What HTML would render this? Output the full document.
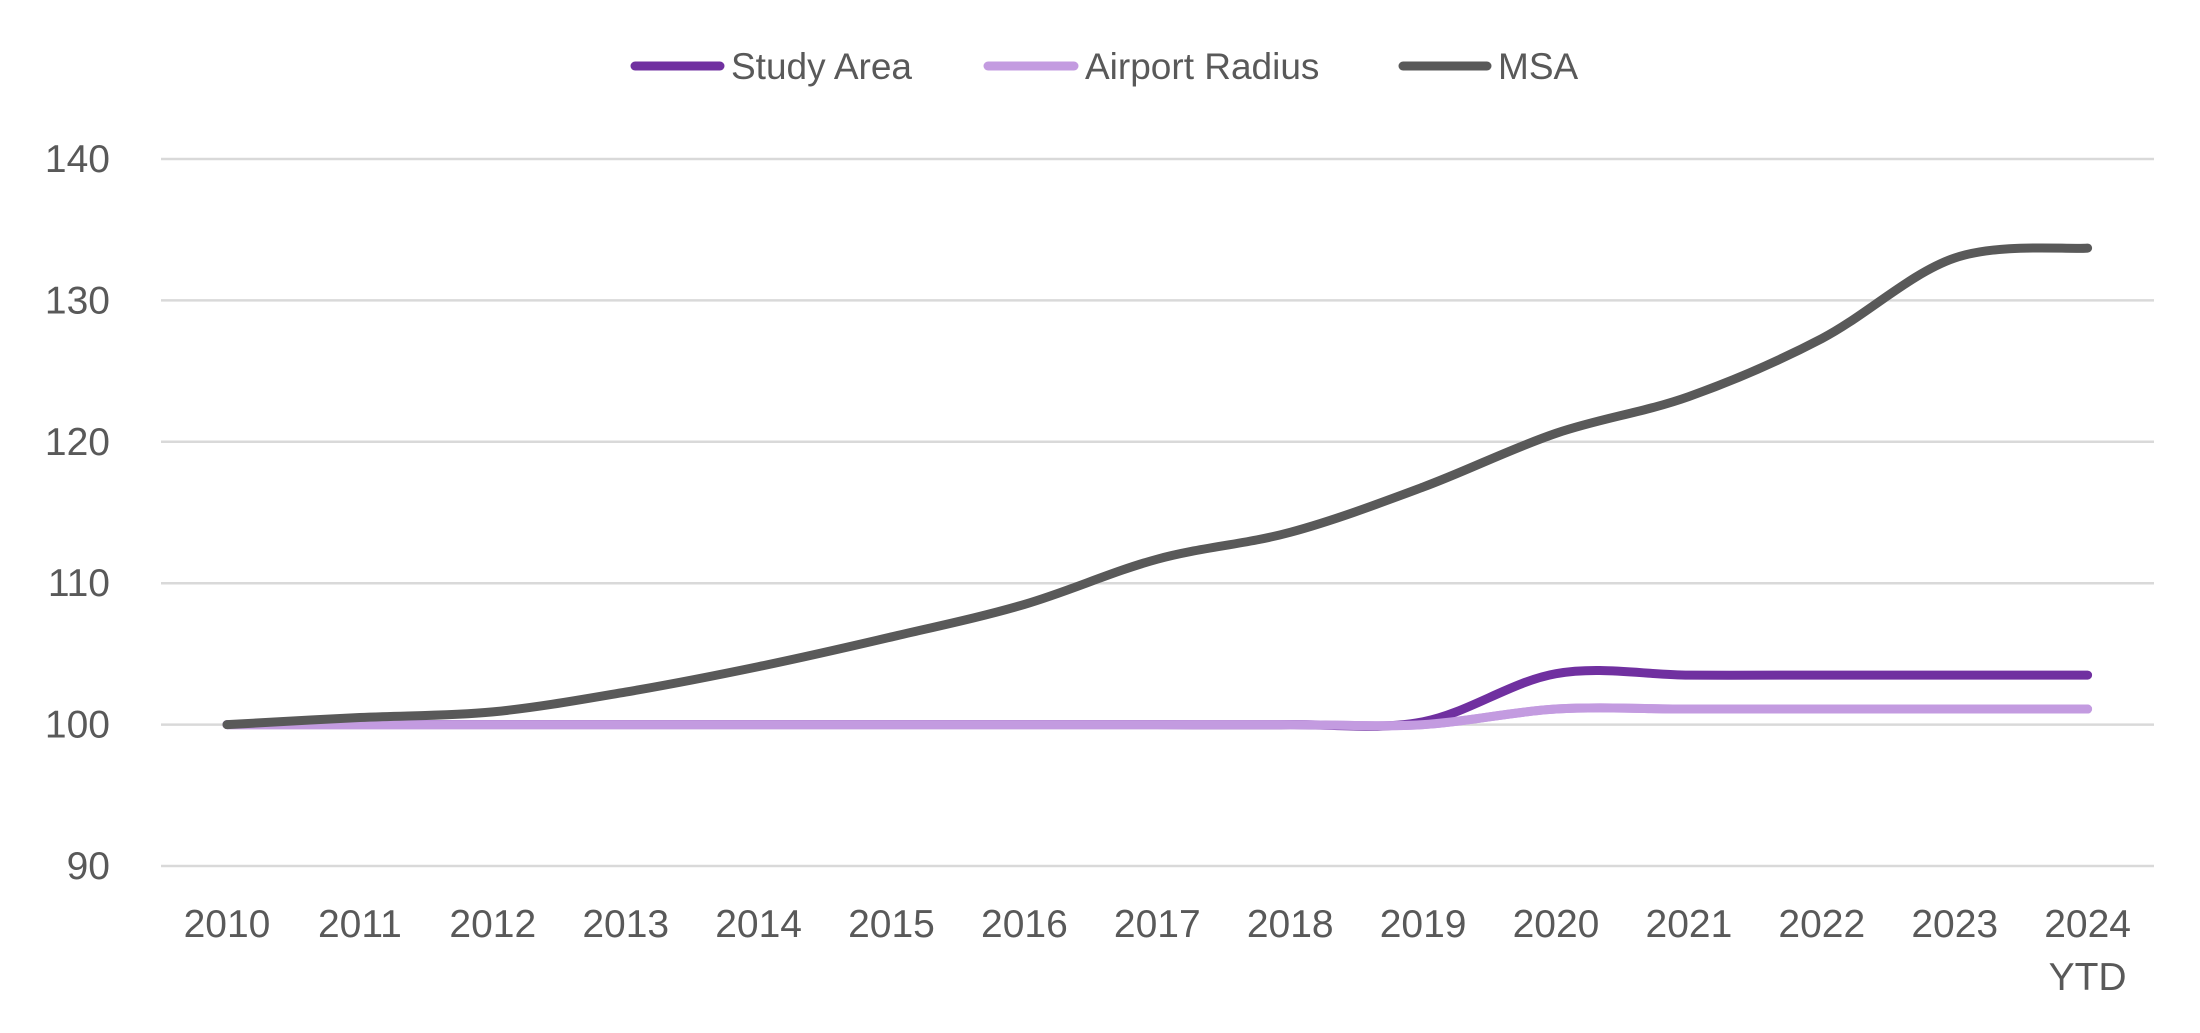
<!DOCTYPE html>
<html><head><meta charset="utf-8"><style>
html,body{margin:0;padding:0;background:#fff;}
svg{display:block;font-family:"Liberation Sans",sans-serif;}
</style></head><body>
<svg id="chart" width="2200" height="1033" viewBox="0 0 2200 1033" xmlns="http://www.w3.org/2000/svg">
<g id="legend">
 <g><line x1="635" y1="66" x2="720" y2="66" stroke="#7030a0" stroke-width="9" stroke-linecap="round"/><text x="731" y="79" font-size="37" fill="#595959">Study Area</text></g>
 <g><line x1="988" y1="66" x2="1074" y2="66" stroke="#c39be0" stroke-width="9" stroke-linecap="round"/><text x="1085" y="79" font-size="37" fill="#595959">Airport Radius</text></g>
 <g><line x1="1403" y1="66" x2="1487" y2="66" stroke="#595959" stroke-width="9" stroke-linecap="round"/><text x="1498" y="79" font-size="37" fill="#595959">MSA</text></g>
</g>
<g id="grid"></g><g id="yticks"></g><g id="xticks"></g><g id="series"></g>
</svg>
<script>
const categories=["2010","2011","2012","2013","2014","2015","2016","2017","2018","2019","2020","2021","2022","2023","2024"];
const studyArea=[100,100,100,100,100,100,100,100,100,100.2,103.6,103.5,103.5,103.5,103.5];
const airportRadius=[100,100,100,100,100,100,100,100,100,100,101.1,101.1,101.1,101.1,101.1];
const msa=[100,100.5,100.9,102.3,104.1,106.2,108.5,111.7,113.6,116.8,120.6,123.2,127.3,133.0,133.7];
const yTicks=[90,100,110,120,130,140];
const NS="http://www.w3.org/2000/svg";
const x0=227,dx=132.9;
function xs(i){return x0+i*dx;}
function ys(v){return 159+(140-v)*14.14;}
function mk(t,a,p){const e=document.createElementNS(NS,t);for(const k in a)e.setAttribute(k,a[k]);p.appendChild(e);return e;}
const grid=document.getElementById('grid'),yt=document.getElementById('yticks'),xt=document.getElementById('xticks'),se=document.getElementById('series');
yTicks.forEach(v=>{
 const l=mk('line',{x1:161,x2:2154,y1:ys(v),y2:ys(v),stroke:'#d9d9d9','stroke-width':2.5},grid);
 
 
 const t=mk('text',{x:110,y:ys(v)+13,'text-anchor':'end','font-size':39,fill:'#595959'},yt);
 t.textContent=v;
 
 
});
categories.forEach((c,i)=>{
 const t=mk('text',{x:xs(i),y:937,'text-anchor':'middle','font-size':39,fill:'#595959'},xt);
 t.textContent=c;
 
 
});
const ytd=mk('text',{x:xs(14),y:990,'text-anchor':'middle','font-size':39,fill:'#595959'},xt);
ytd.textContent='YTD';


function path(vals){
 const p=vals.map((v,i)=>[xs(i),ys(v)]);
 let d='M'+p[0][0]+','+p[0][1];
 for(let i=0;i<p.length-1;i++){
  const a=p[Math.max(0,i-1)],b=p[i],c=p[i+1],e=p[Math.min(p.length-1,i+2)];
  const t=1/6;
  d+=' C'+(b[0]+(c[0]-a[0])*t)+','+(b[1]+(c[1]-a[1])*t)+' '+(c[0]-(e[0]-b[0])*t)+','+(c[1]-(e[1]-b[1])*t)+' '+c[0]+','+c[1];
 }
 return d;
}
[[airportRadius,'#c39be0','series-airport-radius'],[studyArea,'#7030a0','series-study-area'],[airportRadius,'#c39be0','series-airport-radius-overlay'],[msa,'#595959','series-msa']].forEach(([v,c,n],k)=>{
 const el=mk('path',{d:path(v),fill:'none',stroke:c,'stroke-width':9,'stroke-linecap':'round','stroke-linejoin':'round'},se);
 
 
});
</script>
</body></html>
